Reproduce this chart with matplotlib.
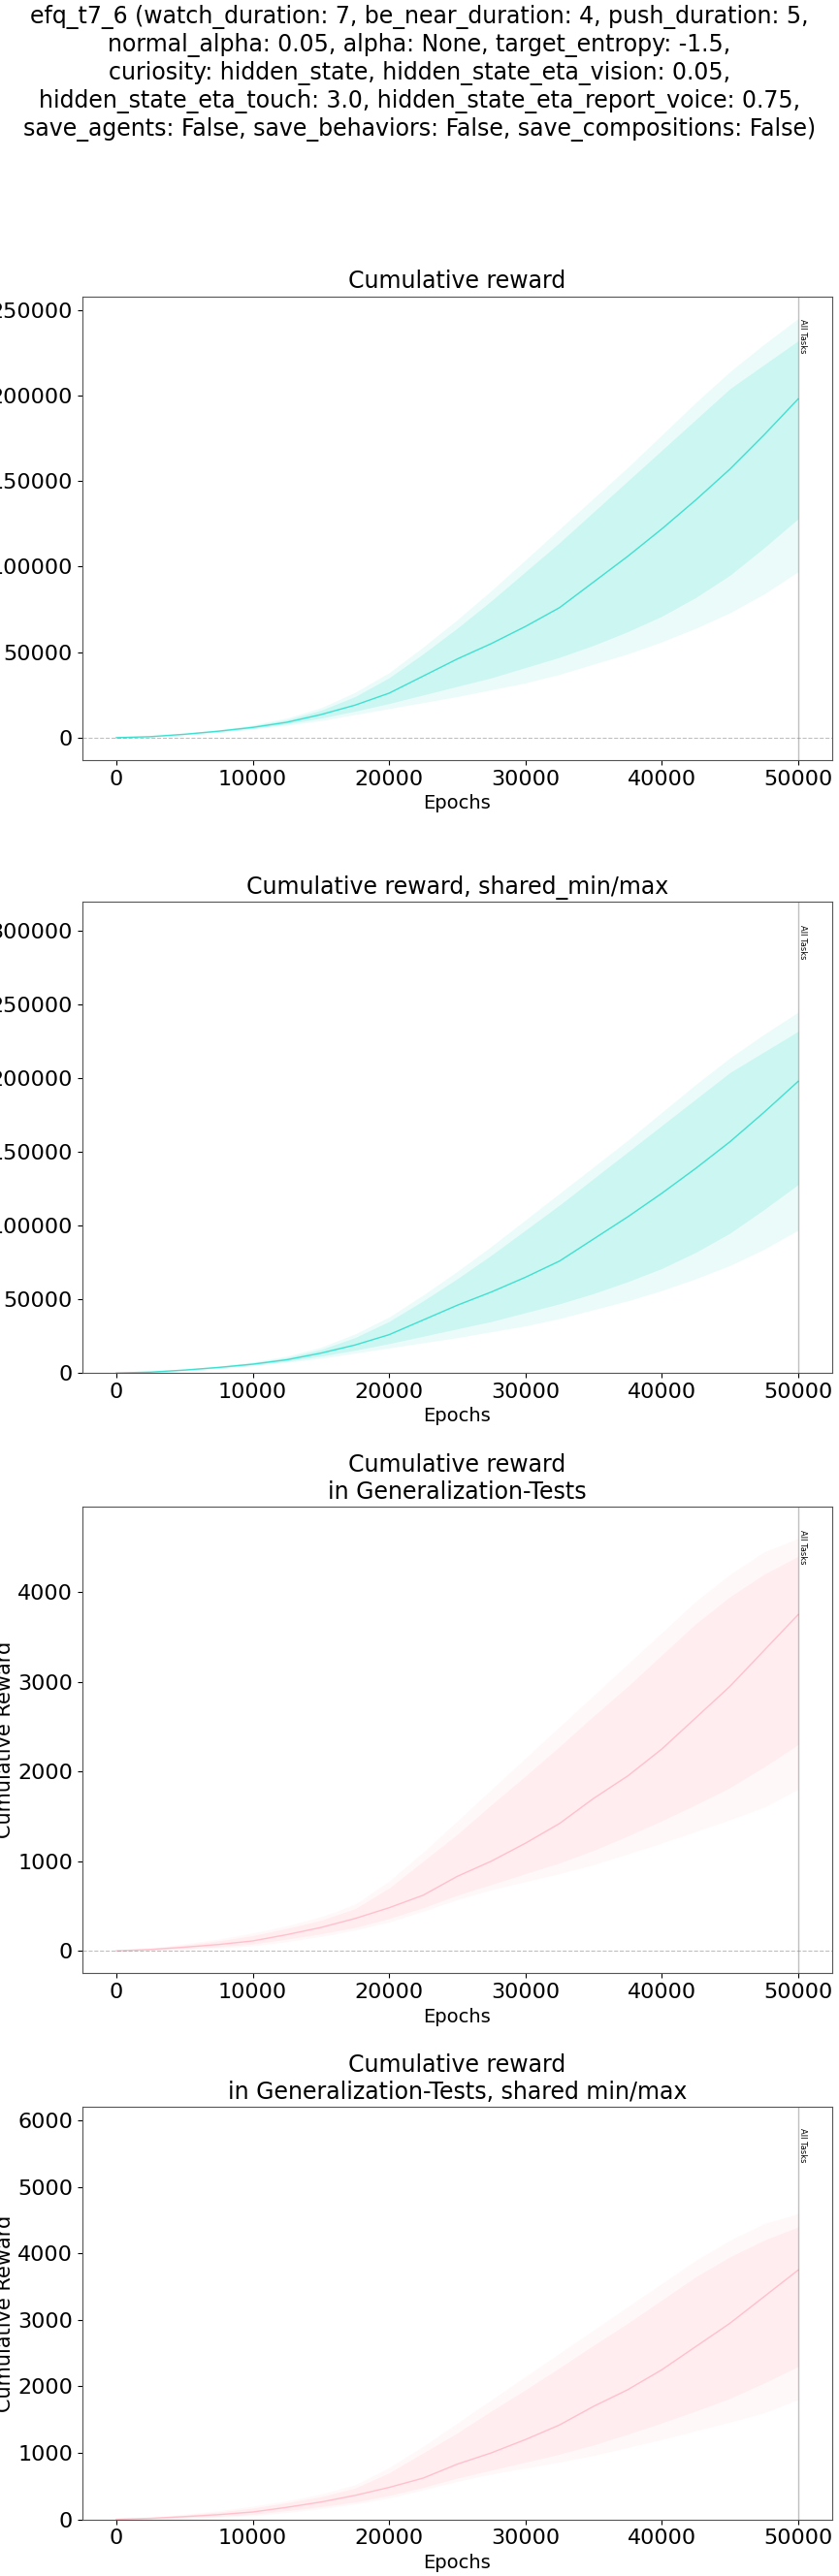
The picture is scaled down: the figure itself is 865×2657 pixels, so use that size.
import matplotlib
matplotlib.use("Agg")
import matplotlib.pyplot as plt
from matplotlib import font_manager
import numpy as np

epochs = [0, 2500, 5000, 7500, 10000, 12500, 15000, 17500, 20000, 22500, 25000,
          27500, 30000, 32500, 35000, 37500, 40000, 42500, 45000, 47500, 50000]

# cumulative reward (training)
rew_mean = [0, 600, 2000, 3800, 6000, 9000, 13500, 19000, 26000, 36000, 46000,
            55000, 65000, 76000, 91000, 106000, 122000, 139000, 157000, 177000, 198000]
rew_lo = [0, 500, 1800, 3400, 5500, 8000, 11500, 15500, 20000, 25000, 30000,
          35000, 41000, 47000, 54000, 62000, 71000, 82000, 95000, 111000, 128000]
rew_hi = [0, 700, 2300, 4300, 7000, 10500, 16000, 24000, 35000, 49000, 64000,
          80000, 97000, 114000, 132000, 150000, 168000, 186000, 204000, 218000, 232000]
rew_min = [0, 400, 1600, 3100, 5000, 7200, 10000, 13500, 17000, 20500, 24000,
           28000, 32000, 37000, 43000, 49000, 56000, 64000, 73000, 84000, 97000]
rew_max = [0, 800, 2500, 4700, 7600, 11500, 17500, 26500, 38000, 53000, 69000,
           86000, 104000, 122000, 140000, 158000, 177000, 196000, 214000, 230000, 245000]

# cumulative reward in generalization tests
gen_mean = [0, 15, 40, 70, 110, 180, 260, 360, 480, 620, 830,
            1000, 1200, 1420, 1700, 1950, 2250, 2600, 2950, 3350, 3750]
gen_lo = [0, 8, 25, 45, 75, 130, 190, 260, 360, 480, 620,
          740, 860, 980, 1120, 1280, 1450, 1630, 1820, 2050, 2300]
gen_hi = [0, 25, 65, 110, 170, 250, 340, 470, 700, 1000, 1300,
          1630, 1950, 2280, 2620, 2950, 3300, 3650, 3950, 4200, 4400]
gen_min = [0, 5, 15, 30, 55, 100, 160, 230, 320, 440, 570,
           680, 770, 860, 960, 1080, 1200, 1330, 1460, 1600, 1800]
gen_max = [0, 30, 80, 130, 200, 280, 380, 520, 780, 1100, 1450,
           1800, 2150, 2500, 2850, 3200, 3550, 3900, 4200, 4450, 4600]

suptitle = ("efq_t7_6 (watch_duration: 7, be_near_duration: 4, push_duration: 5,\n"
            "normal_alpha: 0.05, alpha: None, target_entropy: -1.5,\n"
            "curiosity: hidden_state, hidden_state_eta_vision: 0.05,\n"
            "hidden_state_eta_touch: 3.0, hidden_state_eta_report_voice: 0.75,\n"
            "save_agents: False, save_behaviors: False, save_compositions: False)")

narrow = ["Liberation Sans Narrow", "DejaVu Sans"]

fig = plt.figure(figsize=(8.65, 26.57), dpi=100)
fig.suptitle(suptitle, fontsize=17, y=0.998, va="top")

panels = [
    ("Cumulative reward", rew_mean, rew_lo, rew_hi, rew_min, rew_max, "turquoise", (-13000, 258000), True),
    ("Cumulative reward, shared_min/max", rew_mean, rew_lo, rew_hi, rew_min, rew_max, "turquoise", (0, 320000), False),
    ("Cumulative reward\nin Generalization-Tests", gen_mean, gen_lo, gen_hi, gen_min, gen_max, "pink", (-250, 4950), True),
    ("Cumulative reward\nin Generalization-Tests, shared min/max", gen_mean, gen_lo, gen_hi, gen_min, gen_max, "pink", (0, 6200), False),
]
boxes = [(0.098, 0.705, 0.894, 0.180), (0.098, 0.467, 0.894, 0.183),
         (0.098, 0.234, 0.894, 0.181), (0.098, 0.022, 0.894, 0.160)]

for (title, m, lo, hi, mn, mx, col, ylim, zero), box in zip(panels, boxes):
    ax = fig.add_axes(box)
    ax.fill_between(epochs, mn, mx, color=col, alpha=0.1, linewidth=0)
    ax.fill_between(epochs, lo, hi, color=col, alpha=0.18, linewidth=0)
    ax.plot(epochs, m, color=col, linewidth=1)
    if zero:
        ax.axhline(0, color="gray", linestyle="--", linewidth=0.8, alpha=0.5)
    ax.axvline(50000, color="gray", linewidth=1, alpha=0.5)
    ax.text(50000, ylim[1] - (ylim[1] - ylim[0]) * 0.05, "All Tasks", rotation=270,
            fontsize=6, ha="left", va="top")
    ax.set_xlim(-2500, 52500)
    ax.set_ylim(*ylim)
    ax.set_title(title, fontsize=17)
    ax.set_xlabel("Epochs", fontsize=14)
    ax.set_ylabel("Cumulative Reward", fontsize=15, labelpad=2)
    ax.tick_params(labelsize=16)
    for lab in ax.get_xticklabels() + ax.get_yticklabels():
        lab.set_family(narrow)
    for s in ax.spines.values():
        s.set_color("#555555")

fig.savefig("out.png")
